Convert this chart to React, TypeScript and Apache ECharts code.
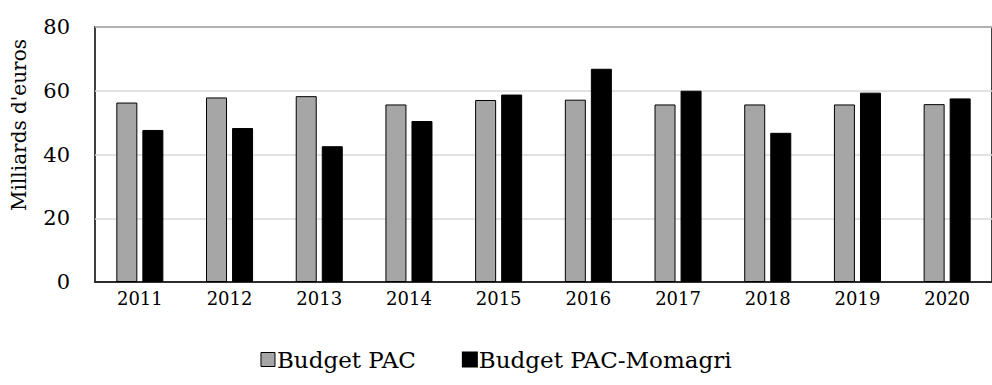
import React, { useEffect, useRef } from "react";
import * as echarts from "echarts";

const years = ["2011", "2012", "2013", "2014", "2015", "2016", "2017", "2018", "2019", "2020"];
const budgetPac = [56.3, 57.9, 58.3, 55.7, 57.1, 57.2, 55.7, 55.7, 55.7, 55.8];
const budgetMomagri = [47.7, 48.3, 42.6, 50.5, 58.8, 66.9, 60.0, 46.8, 59.4, 57.6];
const yTicks = [0, 20, 40, 60, 80];

const FONT = "DejaVu Serif";

export default function App() {
  const ref = useRef<HTMLDivElement>(null);

  useEffect(() => {
    if (!ref.current) return;
    const chart = echarts.init(ref.current, undefined, { renderer: "svg" });
    chart.setOption({
      animation: false,
      backgroundColor: "#ffffff",
      grid: {
        left: 95,
        top: 27,
        width: 905,
        height: 255,
        show: true,
        borderColor: "#000000",
        borderWidth: 1.5,
        backgroundColor: "transparent",
      },
      legend: {
        top: 343,
        left: "center",
        itemWidth: 14,
        itemHeight: 14,
        itemGap: 46,
        textStyle: { fontFamily: FONT, fontSize: 23, color: "#000", padding: [0, 0, 0, -3] },
        data: [
          { name: "Budget PAC", icon: "rect", itemStyle: { color: "#a6a6a6", borderColor: "#000", borderWidth: 1 } },
          { name: "Budget PAC-Momagri", icon: "rect", itemStyle: { color: "#000" } },
        ],
      },
      graphic: [
        {
          type: "text",
          x: 19,
          y: 125,
          rotation: Math.PI / 2,
          style: {
            text: "Milliards d'euros",
            fontFamily: FONT,
            fontSize: 20,
            fill: "#000",
            align: "center",
            verticalAlign: "middle",
          },
        },
      ],
      xAxis: {
        type: "category",
        data: years,
        axisLine: { lineStyle: { color: "#000", width: 1.5 } },
        axisTick: { show: false },
        axisLabel: { fontFamily: FONT, fontSize: 18, color: "#000", margin: 7 },
      },
      yAxis: {
        type: "value",
        min: yTicks[0],
        max: yTicks[yTicks.length - 1],
        interval: 20,
        axisLine: { show: false },
        axisTick: { show: false },
        axisLabel: { fontFamily: FONT, fontSize: 21, color: "#000", margin: 25 },
        splitLine: { lineStyle: { color: "#d9d9d9", width: 1.5 } },
      },
      series: [
        {
          name: "Budget PAC",
          type: "bar",
          data: budgetPac,
          barWidth: 21,
          barGap: "24%",
          itemStyle: { color: "#a6a6a6", borderColor: "#000", borderWidth: 1 },
        },
        {
          name: "Budget PAC-Momagri",
          type: "bar",
          data: budgetMomagri,
          barWidth: 21,
          itemStyle: { color: "#000", borderColor: "#000", borderWidth: 1 },
        },
      ],
    });
    return () => chart.dispose();
  }, []);

  return <div ref={ref} style={{ width: 992, height: 385, position: "absolute", left: 0, top: 0 }} />;
}
